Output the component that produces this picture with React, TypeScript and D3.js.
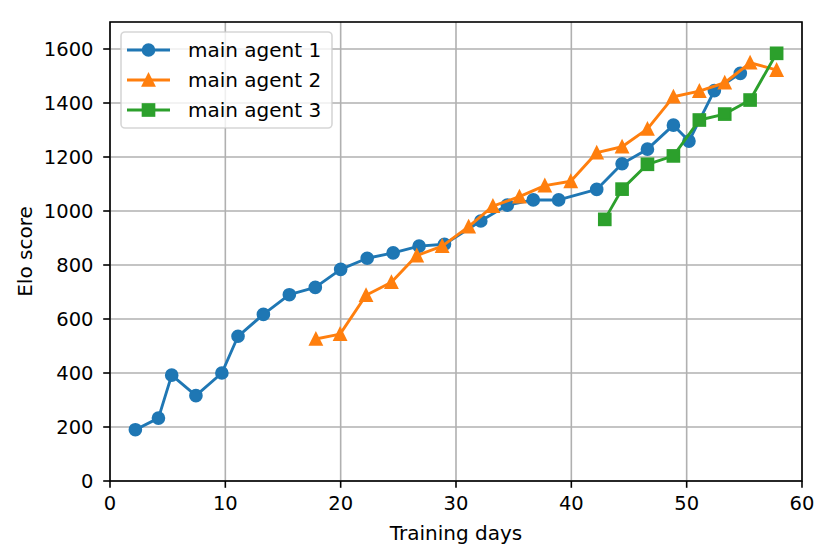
import React from 'react';
import * as d3 from 'd3';

const agent1Days = [2.2, 4.2, 5.35, 7.45, 9.7, 11.1, 13.3, 15.55, 17.8, 20.0, 22.3, 24.55, 26.8, 29.0, 32.15, 34.45, 36.7, 38.9, 42.2, 44.4, 46.6, 48.85, 50.2, 52.4, 54.65];
const agent1Elo = [190, 233, 392, 316, 400, 536, 617, 690, 717, 784, 825, 845, 870, 877, 963, 1022, 1041, 1041, 1080, 1175, 1229, 1318, 1259, 1446, 1510];

const agent2Days = [17.85, 19.95, 22.2, 24.4, 26.6, 28.8, 31.1, 33.2, 35.5, 37.7, 39.95, 42.2, 44.4, 46.6, 48.85, 51.1, 53.3, 55.5, 57.8];
const agent2Elo = [526, 544, 688, 736, 835, 870, 942, 1018, 1053, 1094, 1110, 1216, 1238, 1304, 1423, 1444, 1475, 1549, 1522];

const agent3Days = [42.9, 44.4, 46.6, 48.85, 51.1, 53.3, 55.5, 57.8];
const agent3Elo = [969, 1081, 1173, 1204, 1337, 1359, 1411, 1584];

const seriesNames = ['main agent 1', 'main agent 2', 'main agent 3'];
const seriesColors = ['#1f77b4', '#ff7f0e', '#2ca02c'];
const seriesMarkers = ['circle', 'triangle', 'square'];

const xTicks = [0, 10, 20, 30, 40, 50, 60];
const yTicks = [0, 200, 400, 600, 800, 1000, 1200, 1400, 1600];

const W = 830;
const H = 558;
const plot = { left: 110, right: 802, top: 22, bottom: 481 };
const font = 'DejaVu Sans, sans-serif';
const tickFont = 19.5;
const labelFont = 20;
const ms = 11.7; // marker size px
const mew = 1.95;

const Marker: React.FC<{ kind: string; x: number; y: number; color: string }> = ({ kind, x, y, color }) => {
  const h = ms / 2;
  if (kind === 'circle') {
    return <circle cx={x} cy={y} r={h} fill={color} stroke={color} strokeWidth={mew} />;
  }
  if (kind === 'triangle') {
    const pts = `${x},${y - h} ${x - h},${y + h} ${x + h},${y + h}`;
    return <polygon points={pts} fill={color} stroke={color} strokeWidth={mew} strokeLinejoin="miter" />;
  }
  return <rect x={x - h} y={y - h} width={ms} height={ms} fill={color} stroke={color} strokeWidth={mew} />;
};

export default function App() {
  const x = d3.scaleLinear().domain([0, 60]).range([plot.left, plot.right]);
  const y = d3.scaleLinear().domain([0, 1700]).range([plot.bottom, plot.top]);

  const series = [
    { days: agent1Days, elo: agent1Elo },
    { days: agent2Days, elo: agent2Elo },
    { days: agent3Days, elo: agent3Elo },
  ].map((s, i) => ({
    name: seriesNames[i],
    color: seriesColors[i],
    marker: seriesMarkers[i],
    points: s.days.map((d, j) => [d, s.elo[j]] as [number, number]),
  }));

  const line = d3.line<[number, number]>()
    .x(d => x(d[0]))
    .y(d => y(d[1]));

  const legend = { x: 121, y: 32, w: 211, h: 96 };

  return (
    <div style={{ position: 'absolute', left: 0, top: 0 }}>
      <svg width={W} height={H} viewBox={`0 0 ${W} ${H}`} style={{ display: 'block', background: '#fff' }}>
        <defs>
          <clipPath id="plotClip">
            <rect x={plot.left} y={plot.top} width={plot.right - plot.left} height={plot.bottom - plot.top} />
          </clipPath>
        </defs>

        {/* grid */}
        <g stroke="#b0b0b0" strokeWidth={1.6}>
          {xTicks.map(t => (
            <line key={'gx' + t} x1={x(t)} x2={x(t)} y1={plot.top} y2={plot.bottom} />
          ))}
          {yTicks.map(t => (
            <line key={'gy' + t} x1={plot.left} x2={plot.right} y1={y(t)} y2={y(t)} />
          ))}
        </g>

        {/* series */}
        <g clipPath="url(#plotClip)">
          {series.map(s => (
            <g key={s.name}>
              <path d={line(s.points) || ''} fill="none" stroke={s.color} strokeWidth={2.9} strokeLinejoin="round" strokeLinecap="square" />
              {s.points.map((p, j) => (
                <Marker key={j} kind={s.marker} x={x(p[0])} y={y(p[1])} color={s.color} />
              ))}
            </g>
          ))}
        </g>

        {/* frame */}
        <rect x={plot.left} y={plot.top} width={plot.right - plot.left} height={plot.bottom - plot.top}
          fill="none" stroke="#000" strokeWidth={1.6} />

        {/* x axis ticks */}
        <g fontFamily={font} fontSize={tickFont} fill="#000">
          {xTicks.map(t => (
            <g key={'xt' + t}>
              <line x1={x(t)} x2={x(t)} y1={plot.bottom} y2={plot.bottom + 6.8} stroke="#000" strokeWidth={1.6} />
              <text x={x(t)} y={plot.bottom + 28.5} textAnchor="middle">{t}</text>
            </g>
          ))}
          {yTicks.map(t => (
            <g key={'yt' + t}>
              <line x1={plot.left - 6.8} x2={plot.left} y1={y(t)} y2={y(t)} stroke="#000" strokeWidth={1.6} />
              <text x={plot.left - 16.5} y={y(t)} dy="0.36em" textAnchor="end">{t}</text>
            </g>
          ))}
        </g>

        {/* axis labels */}
        <text x={(plot.left + plot.right) / 2} y={540} textAnchor="middle" fontFamily={font} fontSize={labelFont}>
          Training days
        </text>
        <text transform={`translate(32,${(plot.top + plot.bottom) / 2}) rotate(-90)`} textAnchor="middle"
          fontFamily={font} fontSize={labelFont}>
          Elo score
        </text>

        {/* legend */}
        <g>
          <rect x={legend.x} y={legend.y} width={legend.w} height={legend.h} rx={4} ry={4}
            fill="#fff" fillOpacity={0.8} stroke="#cccccc" strokeOpacity={0.8} strokeWidth={1.6} />
          {series.map((s, i) => {
            const cy = 50 + i * 30;
            return (
              <g key={'lg' + s.name}>
                <line x1={127} x2={170} y1={cy} y2={cy} stroke={s.color} strokeWidth={2.9} />
                <Marker kind={s.marker} x={148.5} y={cy} color={s.color} />
                <text x={188} y={cy} dy="0.36em" fontFamily={font} fontSize={labelFont}>{s.name}</text>
              </g>
            );
          })}
        </g>
      </svg>
    </div>
  );
}
